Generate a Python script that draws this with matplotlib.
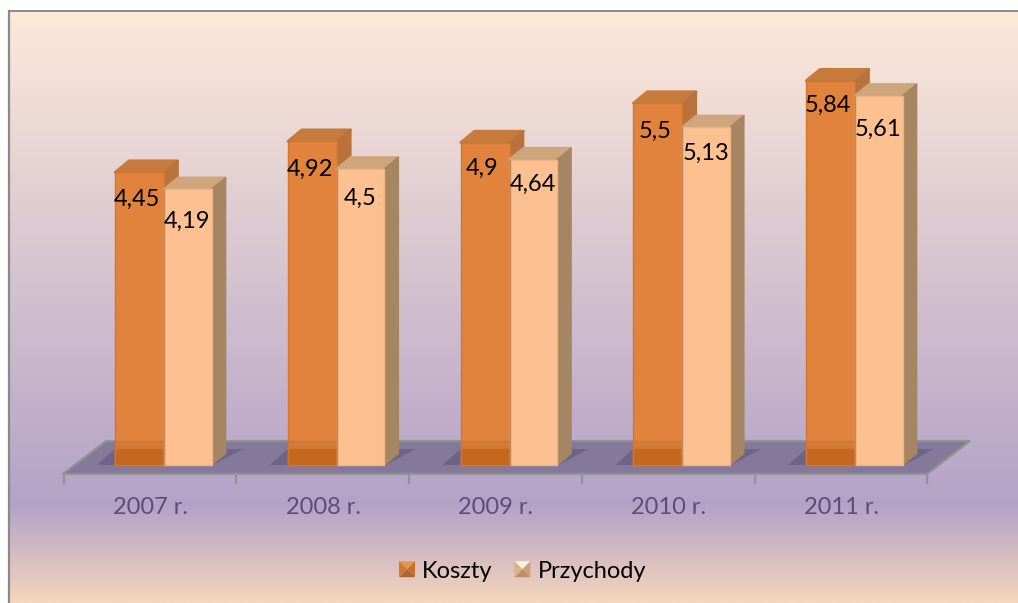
import numpy as np
import matplotlib
matplotlib.use('Agg')
import matplotlib.pyplot as plt
from matplotlib.colors import LinearSegmentedColormap
from matplotlib.legend_handler import HandlerBase
from matplotlib.patches import Patch, Polygon

# ========== data ==========
years = ['2007 r.', '2008 r.', '2009 r.', '2010 r.', '2011 r.']
koszty = [4.45, 4.92, 4.9, 5.5, 5.84]
przychody = [4.19, 4.5, 4.64, 5.13, 5.61]
koszty_labels = ['4,45', '4,92', '4,9', '5,5', '5,84']
przychody_labels = ['4,19', '4,5', '4,64', '5,13', '5,61']

# how far below the bar top each label sits, px
koszty_drop = [27, 28, 26, 28, 25]
przychody_drop = [32, 29, 25, 26, 33]

# ========== layout ==========
W, H = 1018, 603
PX_X = 172.75   # px per category
PX_Y = 65.8     # px per unit
X0, Y0 = 164, 465  # px position of category 0 / value 0
FONT = 17


def dx(px):
    return px / PX_X


def dy(px):
    return px / PX_Y


def pt(x_px, y_px):
    # px of the picture -> data coords
    return (x_px - X0) / PX_X, (Y0 - y_px) / PX_Y


plt.rcParams['font.family'] = ['Lato', 'DejaVu Sans']

fig = plt.figure(figsize=(W / 100, H / 100), dpi=100, facecolor='white')
ax = fig.add_axes([0, 0, 1, 1])
ax.axis('off')

# background gradient
cmap = LinearSegmentedColormap.from_list('bg', [
    (0.0, '#FDE9D9'), (0.835, '#B3A2C7'), (1.0, '#F5D5BC')])
grad = np.linspace(0, 1, 256).reshape(-1, 1)
left, top = pt(9, 11)
right, bottom = pt(W, H)
ax.imshow(grad, cmap=cmap, aspect='auto', extent=(left, right, bottom, top), zorder=0)
ax.set_xlim(-X0 / PX_X, (W - X0) / PX_X)
ax.set_ylim(-(H - Y0) / PX_Y, Y0 / PX_Y)

# frame
ax.plot([left, left], [bottom, top], color='#8A8A8A', lw=1.6, zorder=1)
ax.plot([left, right], [top, top], color='#8A8A8A', lw=1.4, zorder=1)

# floor
floor = [pt(63, 474), pt(106, 441), pt(970, 441), pt(927, 474)]
ax.add_patch(Polygon(floor, closed=True, facecolor='#85799B', edgecolor='#8E9490', lw=1.6, zorder=2))

# axis ticks
for i in range(len(years) + 1):
    x = pt(63.5, 474)[0] + i
    ax.plot([x, x], [pt(0, 474)[1], pt(0, 483)[1]], color='#8E9490', lw=1.6, zorder=2)

FRONT_W = 47.5 / PX_X
DEPTH_X, DEPTH_Y = dx(14), dy(11.5)
BACK_Y = pt(0, 441)[1]
SHADOW_Y = pt(0, 448)[1]
x_pos = np.arange(len(years))


def draw_series(xs, values, width, front, bands, top_c, side, edge, z):
    ax.bar(xs, values, width=width, align='edge', color=front, edgecolor=edge, lw=1.0,
           joinstyle='round', zorder=z + 1)
    for height, col in bands:
        ax.bar(xs, height, width=width, align='edge', color=col, edgecolor=edge, lw=1.0, zorder=z + 1.1)
    for x, v in zip(xs, values):
        r = x + width
        ax.add_patch(Polygon([(x, v), (x + DEPTH_X, v + DEPTH_Y), (r + DEPTH_X, v + DEPTH_Y), (r, v)],
                             closed=True, facecolor=top_c, edgecolor=top_c, lw=1.8, joinstyle='round', zorder=z))
        ax.add_patch(Polygon([(r, 0), (r + DEPTH_X, DEPTH_Y), (r + DEPTH_X, v + DEPTH_Y), (r, v)],
                             closed=True, facecolor=side, edgecolor=side, lw=1.2, joinstyle='round', zorder=z))


# shadows on the floor
for x in x_pos:
    ax.add_patch(Polygon([(x - dx(67), 0), (x + dx(49), 0), (x + dx(79), dy(16)), (x - dx(49), dy(16))],
                         closed=True, facecolor='#6E6486', edgecolor='none', zorder=3))

draw_series(x_pos - 49 / PX_X, koszty, 49 / PX_X, '#E1833C',
            [(BACK_Y, '#D3793A'), (SHADOW_Y, '#C4671F')],
            '#C67A3C', '#B9723C', '#D0762F', 4)
draw_series(x_pos, przychody, FRONT_W, '#FDC090', [], '#CFA57C', '#A68562', '#F0B484', 6)

# darker seam on the left of the light bars
for x, v in zip(x_pos, przychody):
    ax.plot([x, x], [0, v], color='#BE8A5C', lw=1.0, zorder=7.5)

# data labels
for xs, vals, labels, drops in ((x_pos - 27 / PX_X, koszty, koszty_labels, koszty_drop),
                                (x_pos + 23.5 / PX_X, przychody, przychody_labels, przychody_drop)):
    for x, v, lab, d in zip(xs, vals, labels, drops):
        ax.text(x, v - dy(d), lab, ha='center', va='center', fontsize=FONT, color='black', zorder=10)

# category labels
for x, lab in zip(x_pos, years):
    ax.text(x - dx(13.5), pt(0, 507)[1], lab, ha='center', va='center', fontsize=FONT, color='#604A7B', zorder=10)


class PyramidHandler(HandlerBase):
    # little bevelled square of the legend
    def create_artists(self, legend, orig_handle, xd, yd, width, height, fontsize, trans):
        colors = orig_handle.pyramid
        s = 11.5
        x0 = (width - s) / 2 - xd
        y0 = (height - s) / 2 - yd
        c = (x0 + s / 2, y0 + s / 2)
        tl, tr, br, bl = (x0, y0 + s), (x0 + s, y0 + s), (x0 + s, y0), (x0, y0)
        return [Polygon([a, b, c], closed=True, facecolor=col, edgecolor='none', transform=trans)
                for (a, b), col in zip(((tl, tr), (tr, br), (br, bl), (bl, tl)), colors)]


h1 = Patch(label='Koszty')
h1.pyramid = ['#E0964F', '#C2712F', '#B0652A', '#CC7A38']
h2 = Patch(label='Przychody')
h2.pyramid = ['#FFF2D8', '#CFA077', '#B98F68', '#DDB088']
leg = ax.legend(handles=[h1, h2], handler_map={Patch: PyramidHandler()},
                loc='center', bbox_to_anchor=pt(522.5, 571), bbox_transform=ax.transData,
                ncol=2, frameon=False, fontsize=FONT, handlelength=0.68, handleheight=0.7,
                handletextpad=0.3, columnspacing=0.92, labelcolor='black')
leg.set_zorder(10)

fig.savefig('out.png', dpi=100, facecolor='white')
